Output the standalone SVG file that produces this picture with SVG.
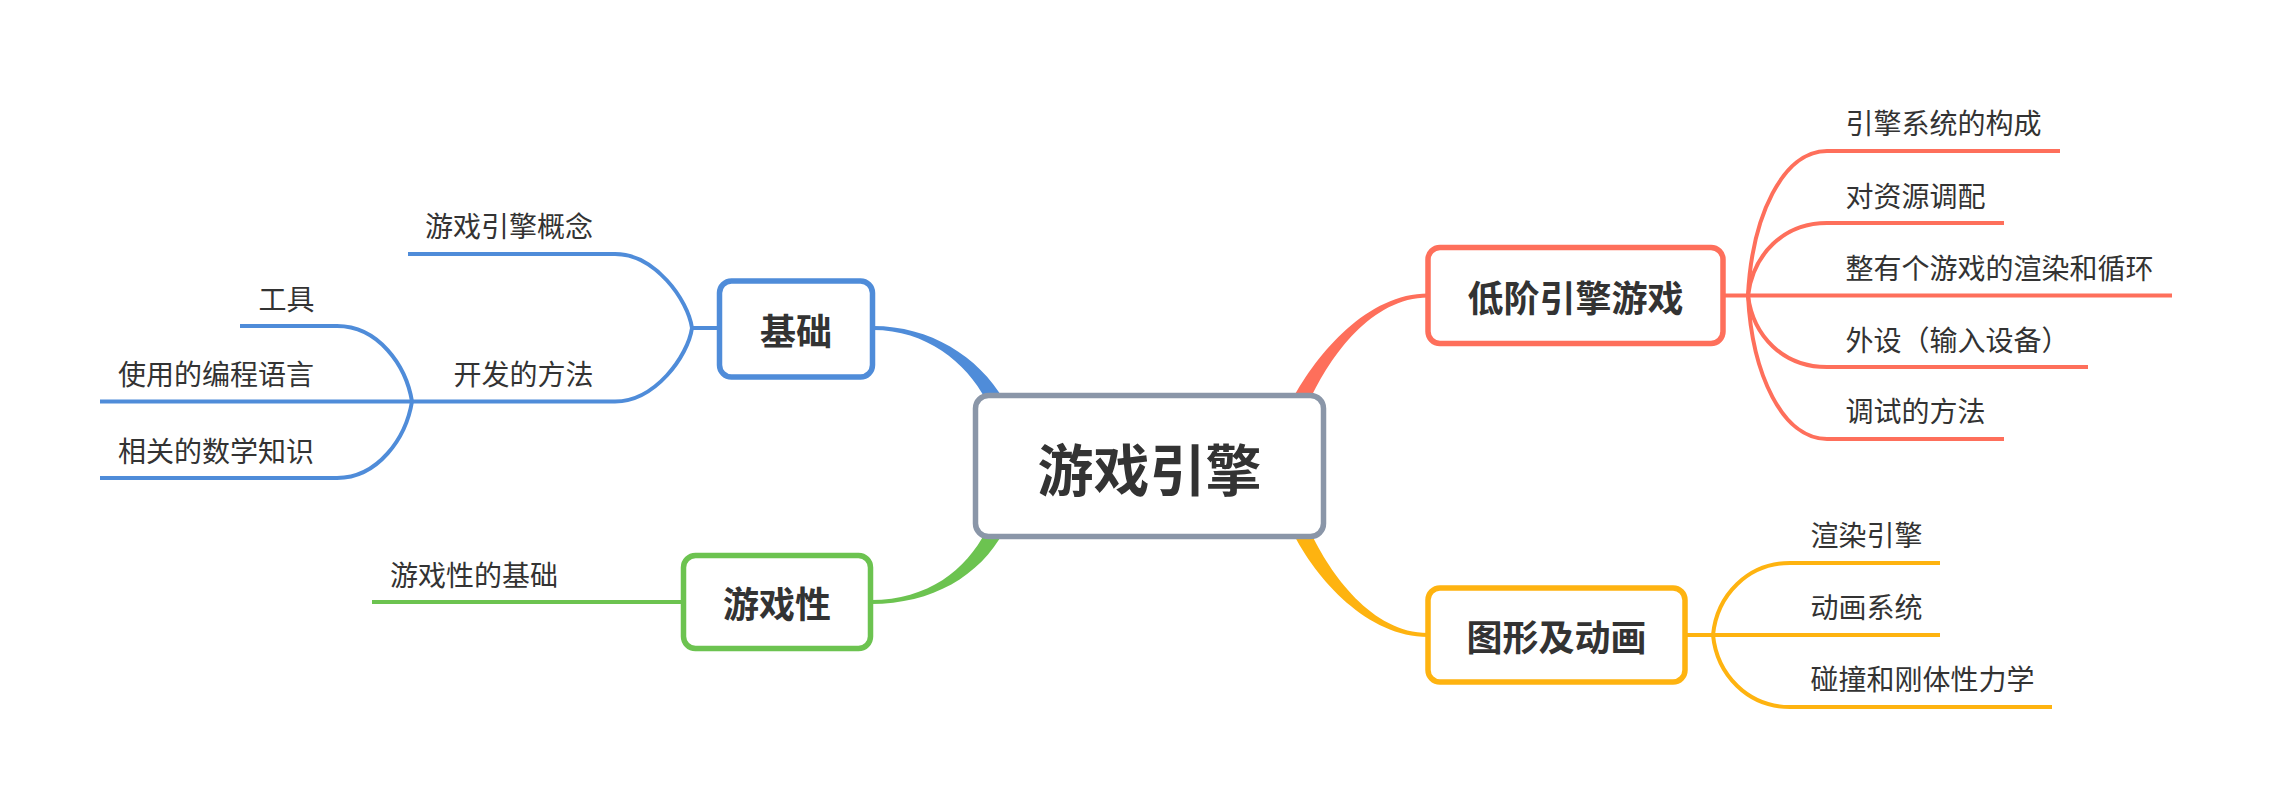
<svg xmlns="http://www.w3.org/2000/svg" width="2272" height="810" viewBox="0 0 2272 810">
<style>
.t{font-family:"Noto Sans CJK SC","Noto Sans",sans-serif;fill:#333333;dominant-baseline:central}
.sub{font-size:28px}
.main{font-size:36px;font-weight:bold;text-anchor:middle}
.ctr{font-size:56px;font-weight:bold;text-anchor:middle}
.ln{fill:none;stroke-width:4;stroke-linecap:butt}
.box{fill:#ffffff;stroke-width:5.5}
.blue{stroke:#4f8cd9}
.green{stroke:#6cc350}
.red{stroke:#fe6f5b}
.amber{stroke:#feb310}
</style>
<rect width="2272" height="810" fill="#ffffff"/>
<g id="connectors">
  <!-- main tapered connectors -->
  <path d="M873,326 C930,326 978,356 1004,400 L986,400 C966,362 926,330 873,330 Z" fill="#4f8cd9"/>
  <path d="M871,600 C928,600 966,570 986,531 L1004,531 C980,576 932,604 871,604 Z" fill="#6cc350"/>
  <path d="M1292,400 C1318,352 1368,293.5 1428,293.5 L1428,297.5 C1372,297.5 1330,356 1310,400 Z" fill="#fe6f5b"/>
  <path d="M1292,531 C1316,580 1368,637 1428,637 L1428,633 C1372,633 1330,574 1310,531 Z" fill="#feb310"/>
  <!-- 基础 branches -->
  <path class="ln blue" d="M692,328 L719,328"/>
  <path class="ln blue" d="M615,254 C655,254 688,300 692,328 C688,356 655,401.5 615,401.5"/>
  <!-- 开发的方法 branches -->
  <path class="ln blue" d="M337,326 C378,326 406,365 412,401.5 C406,438 378,478 337,478"/>
  <!-- 低阶引擎游戏 branches -->
  <path class="ln red" d="M1725,295.5 L1748,295.5"/>
  <path class="ln red" d="M1827,151 C1783,151 1752,216 1748,295.5 C1752,375 1783,439 1827,439"/>
  <path class="ln red" d="M1827,223 C1783,223 1753,255 1748,295.5 C1753,336 1783,367 1827,367"/>
  <!-- 图形及动画 branches -->
  <path class="ln amber" d="M1686,635 L1713,635"/>
  <path class="ln amber" d="M1790,563 C1748,563 1717,595 1713,635 C1717,675 1748,707 1790,707"/>
</g>
<g id="node-center">
  <rect class="box" x="975.5" y="395.5" width="348" height="141" rx="13" stroke="#8a96a8"/>
  <text class="t ctr" x="1149.5" y="466">游戏引擎</text>
</g>
<g id="node-jichu">
  <rect class="box blue" x="719.5" y="281" width="153" height="96" rx="12"/>
  <text class="t main" x="796" y="329">基础</text>
</g>
<g id="node-youxixing">
  <rect class="box green" x="683.5" y="555.5" width="187" height="93" rx="12"/>
  <text class="t main" x="777" y="602">游戏性</text>
</g>
<g id="node-dijie">
  <rect class="box red" x="1428" y="247.5" width="295" height="96" rx="12"/>
  <text class="t main" x="1575.5" y="295.5">低阶引擎游戏</text>
</g>
<g id="node-tuxing">
  <rect class="box amber" x="1428" y="588" width="257" height="94" rx="12"/>
  <text class="t main" x="1556.5" y="635">图形及动画</text>
</g>
<g id="node-gainian">
  <path class="ln blue" d="M408,254 L615,254"/>
  <text class="t sub" x="425" y="225">游戏引擎概念</text>
</g>
<g id="node-kaifa">
  <path class="ln blue" d="M412,401.5 L615,401.5"/>
  <text class="t sub" x="453.5" y="373">开发的方法</text>
</g>
<g id="node-gongju">
  <path class="ln blue" d="M240,326 L337,326"/>
  <text class="t sub" x="258.5" y="297.5">工具</text>
</g>
<g id="node-yuyan">
  <path class="ln blue" d="M100,401.5 L412,401.5"/>
  <text class="t sub" x="118" y="373">使用的编程语言</text>
</g>
<g id="node-shuxue">
  <path class="ln blue" d="M100,478 L337,478"/>
  <text class="t sub" x="118" y="449.5">相关的数学知识</text>
</g>
<g id="node-youxixing-jichu">
  <path class="ln green" d="M372,602 L684,602"/>
  <text class="t sub" x="390" y="573.5">游戏性的基础</text>
</g>
<g id="node-goucheng">
  <path class="ln red" d="M1827,151 L2060,151"/>
  <text class="t sub" x="1845.5" y="122">引擎系统的构成</text>
</g>
<g id="node-ziyuan">
  <path class="ln red" d="M1827,223 L2004,223"/>
  <text class="t sub" x="1845.5" y="194.5">对资源调配</text>
</g>
<g id="node-xunhuan">
  <path class="ln red" d="M1748,295.5 L2172,295.5"/>
  <text class="t sub" x="1845.5" y="266.5">整有个游戏的渲染和循环</text>
</g>
<g id="node-waishe">
  <path class="ln red" d="M1827,367 L2088,367"/>
  <text class="t sub" x="1845.5" y="338.5">外设（输入设备）</text>
</g>
<g id="node-tiaoshi">
  <path class="ln red" d="M1827,439 L2004,439"/>
  <text class="t sub" x="1845.5" y="410">调试的方法</text>
</g>
<g id="node-xuanran">
  <path class="ln amber" d="M1790,563 L1940,563"/>
  <text class="t sub" x="1810.5" y="533.5">渲染引擎</text>
</g>
<g id="node-donghua">
  <path class="ln amber" d="M1713,635 L1940,635"/>
  <text class="t sub" x="1810.5" y="606">动画系统</text>
</g>
<g id="node-pengzhuang">
  <path class="ln amber" d="M1790,707 L2052,707"/>
  <text class="t sub" x="1810.5" y="677.5">碰撞和刚体性力学</text>
</g>
</svg>
